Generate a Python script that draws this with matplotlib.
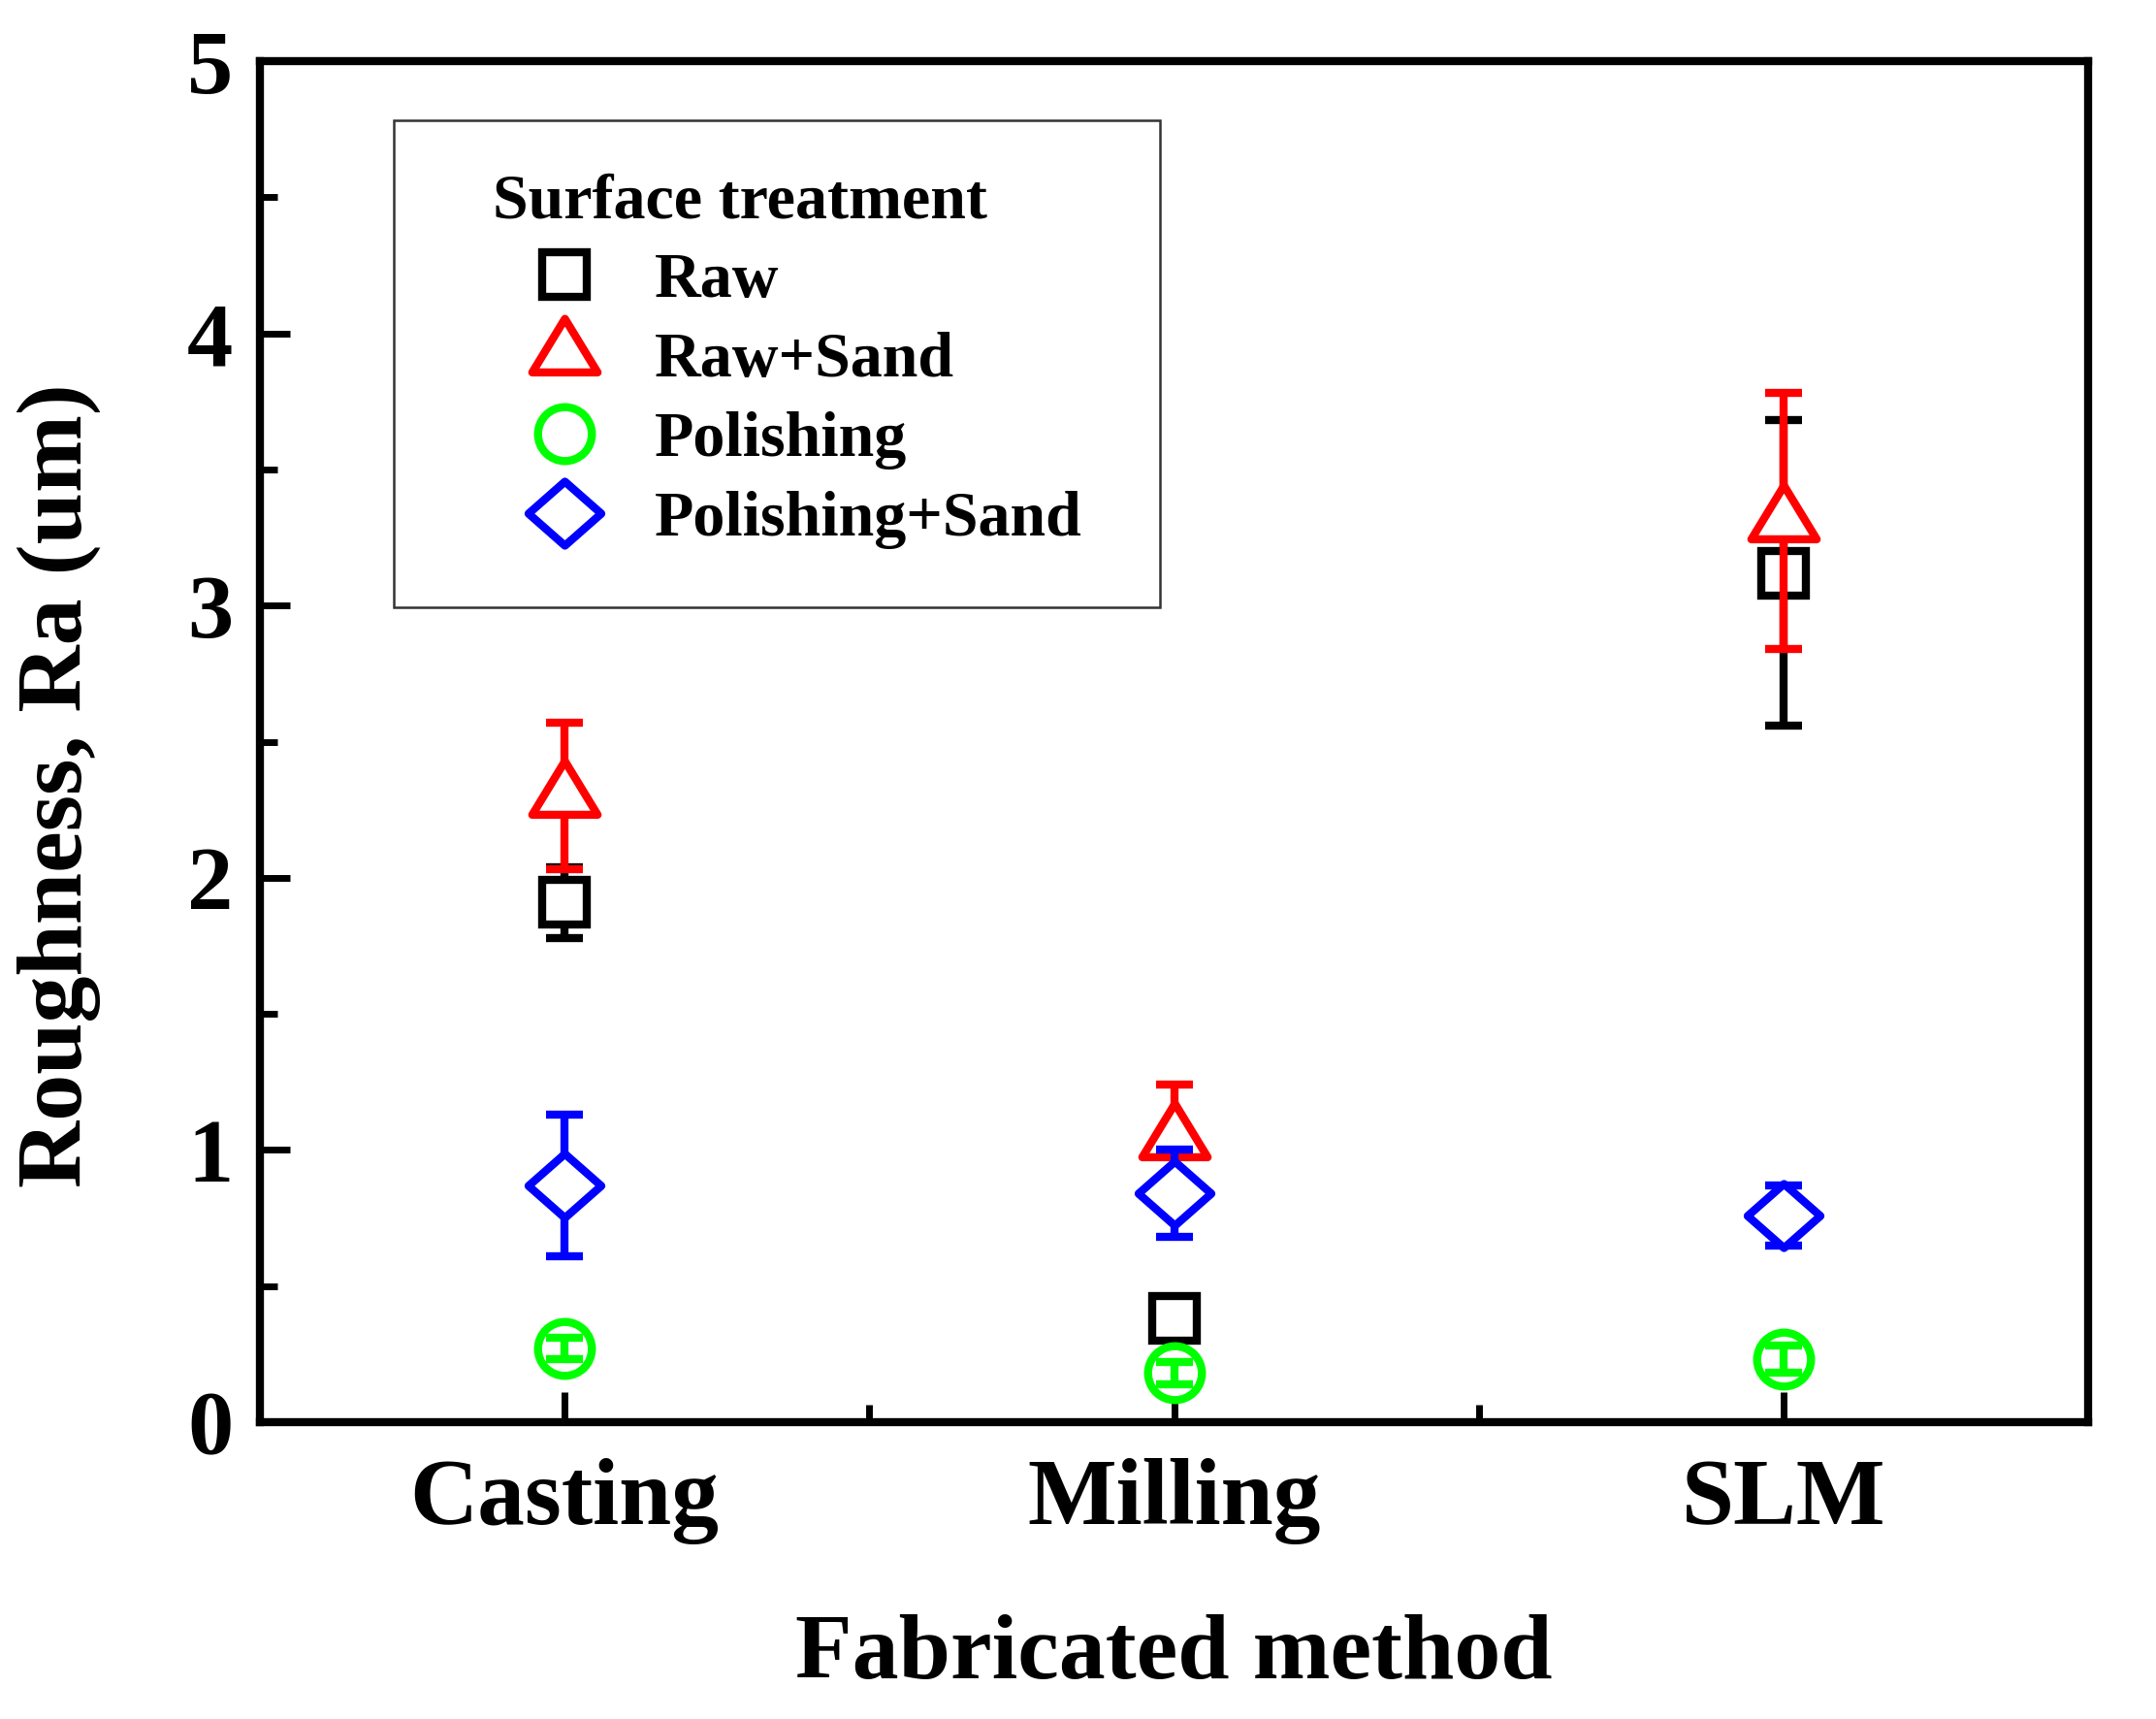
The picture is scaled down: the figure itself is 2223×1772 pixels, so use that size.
import matplotlib
matplotlib.use('Agg')
import matplotlib.pyplot as plt
from matplotlib.lines import Line2D
from matplotlib.patches import Rectangle
from matplotlib.path import Path
from matplotlib.markers import MarkerStyle
from matplotlib.ticker import MultipleLocator, FixedLocator

# ---------------- data ----------------
methods = ['Casting', 'Milling', 'SLM']
treatments = ['Raw', 'Raw+Sand', 'Polishing', 'Polishing+Sand']
raw = [1.91, 0.38, 3.12]
raw_err = [0.13, 0.05, 0.56]
raw_sand = [2.30, 1.04, 3.31]
raw_sand_err = [0.27, 0.20, 0.47]
polishing = [0.27, 0.18, 0.23]
polishing_err = [0.04, 0.04, 0.05]
polishing_sand = [0.87, 0.84, 0.76]
polishing_sand_err = [0.26, 0.16, 0.11]
y_ticks = [0, 1, 2, 3, 4, 5]

# ---------------- style ----------------
FONT = 'Liberation Serif'
plt.rcParams['font.family'] = [FONT, 'DejaVu Serif']
plt.rcParams['font.weight'] = 'bold'

tri_path = Path([(0, 1.093), (-1, -0.547), (1, -0.547), (0, 1.093)], closed=True)
dia_path = Path([(-1, 0), (0, 0.88), (1, 0), (0, -0.88), (-1, 0)], closed=True)

styles = [
    dict(marker=MarkerStyle('s', joinstyle='miter'), ms=33, color='black', above=False),
    dict(marker=MarkerStyle(tri_path, joinstyle='miter'), ms=53, color='red', above=False),
    dict(marker=MarkerStyle('o'), ms=40, color='#00FF00', above=True),
    dict(marker=MarkerStyle(dia_path, joinstyle='miter'), ms=54, color='blue', above=False),
]
series = [(raw, raw_err), (raw_sand, raw_sand_err),
          (polishing, polishing_err), (polishing_sand, polishing_sand_err)]

fig = plt.figure(figsize=(22.23, 17.72), dpi=100)
ax = fig.add_axes([0.1206, 0.1727, 0.9685 - 0.1206, 0.9644 - 0.1727])

x = list(range(1, len(methods) + 1))
handles = []
for i, ((vals, errs), st, name) in enumerate(zip(series, styles, treatments)):
    ax.errorbar(x, vals, yerr=errs, linestyle='none',
                marker=st['marker'], markersize=st['ms'],
                mfc='white', mec=st['color'], mew=6,
                ecolor=st['color'], elinewidth=6, capsize=14, capthick=6.5,
                barsabove=st['above'], zorder=2 + i)
    handles.append(Line2D([], [], linestyle='none', marker=st['marker'],
                          markersize=st['ms'], mfc='white', mec=st['color'],
                          mew=6, label=name))

ax.set_xlim(0.5, 3.5)
ax.set_ylim(0, 5)
ax.set_xticks(x)
ax.set_xticklabels(methods)
ax.xaxis.set_minor_locator(FixedLocator([1.5, 2.5]))
ax.set_yticks(y_ticks)
ax.yaxis.set_minor_locator(MultipleLocator(0.5))

for sp in ax.spines.values():
    sp.set_linewidth(6)
ax.tick_params(which='both', direction='in', top=False, right=False, width=5)
ax.tick_params(which='major', length=22)
ax.tick_params(which='minor', length=13)
ax.tick_params(axis='x', which='major', labelsize=70, pad=27)
ax.tick_params(axis='y', which='major', labelsize=68, pad=20)
for lab in ax.get_xticklabels() + ax.get_yticklabels():
    lab.set_fontweight('bold')

ax.set_xlabel('Fabricated method', fontsize=69, fontweight='bold')
ax.set_ylabel('Roughness, Ra (um)', fontsize=69, fontweight='bold')
ax.xaxis.set_label_coords(0.5, -0.141)
ax.xaxis.label.set_va('top')
ax.yaxis.set_label_coords(-0.087, 0.468)

# legend
leg = ax.legend(handles=handles, loc='upper left', bbox_to_anchor=(0.1273, 0.918),
                frameon=False, borderpad=0, borderaxespad=0,
                title='Surface treatment', alignment='left',
                prop=dict(family=FONT, weight='bold', size=47.5),
                title_fontproperties=dict(family=FONT, weight='bold', size=47.5),
                handlelength=2.24, handletextpad=0.29, labelspacing=0.33,
                markerscale=1.0)
leg.set_zorder(10)
ax.add_patch(Rectangle((0.0732, 0.5987), 0.4923 - 0.0732, 0.9565 - 0.5987,
                       transform=ax.transAxes, fill=False, edgecolor='#333333',
                       linewidth=1.8, zorder=9))

fig.savefig('out.png', dpi=100, facecolor='white')
